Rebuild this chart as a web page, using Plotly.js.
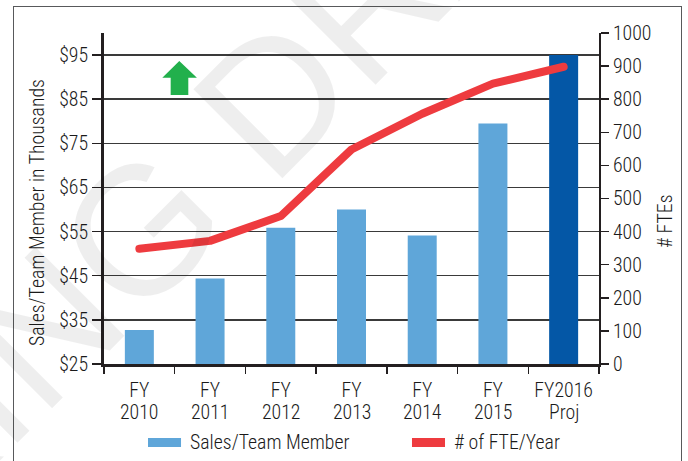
<!DOCTYPE html>
<html>
<head>
<meta charset="utf-8">
<script src="https://cdn.plot.ly/plotly-3.0.1.min.js"></script>
<style>
  html, body { margin: 0; padding: 0; background: #ffffff; }
  #wrap { position: relative; width: 688px; height: 461px; overflow: hidden; }
  #frame { position: absolute; left: 13px; top: 6px; width: 669px; height: 480px;
           border: 1.5px solid #58595b; box-sizing: border-box; }
  #plot { position: absolute; left: 0; top: 0; width: 688px; height: 461px; }
  .js-line { stroke-linecap: round !important; stroke-linejoin: round !important; }
</style>
</head>
<body>
<div id="wrap">
  <div id="frame"></div>
  <div id="plot"></div>
</div>
<script>
// ---- data ----
var categories = ["FY 2010", "FY 2011", "FY 2012", "FY 2013", "FY 2014", "FY 2015", "FY2016 Proj"];
var tickLine1 = ["FY", "FY", "FY", "FY", "FY", "FY", "FY2016"];
var tickLine2 = ["2010", "2011", "2012", "2013", "2014", "2015", "Proj"];
var salesPerMember = [32.7, 44.4, 55.9, 60.0, 54.1, 79.5, 95.0];   // $ thousands
var ftePerYear = [348, 372, 447, 648, 756, 847, 898];
var barColors = ["#5fa6d9", "#5fa6d9", "#5fa6d9", "#5fa6d9", "#5fa6d9", "#5fa6d9", "#0457a6"];
var seriesNames = ["Sales/Team Member", "# of FTE/Year"];
var leftTitle = "Sales/Team Member in Thousands";
var rightTitle = "# FTEs";

// ---- pick a condensed font if a real one is installed ----
var cv = document.createElement("canvas").getContext("2d");
function w(font, s) { cv.font = font; return cv.measureText(s).width; }
var probe = "Sales/Team Member";
var WEIGHT = 350;
var wRoboto = w("100px 'Roboto', monospace", probe);
var wRobotoC = w("100px 'Roboto Condensed', monospace", probe);
var wLibN = w("100px 'Liberation Sans Narrow', monospace", probe);
var wMono = w("100px monospace", probe);
var chosen = "Liberation Sans";
if (Math.abs(wLibN - wMono) > 1) chosen = "Liberation Sans Narrow";
else if (Math.abs(wRobotoC - wMono) > 1 && wRobotoC < wRoboto * 0.95) chosen = "Roboto Condensed";
var FONT = "'" + chosen + "', 'Liberation Sans', Arial, sans-serif";
var unitW = w(WEIGHT + " 100px " + FONT, probe) / 100;
var FS = Math.min(21, Math.round(160 / unitW * 10) / 10);

var TXT = "#1a1a1a";
function f() { return { family: FONT, size: FS, color: TXT, weight: WEIGHT }; }

var traces = [
  {
    type: "bar", name: seriesNames[0], x: categories, y: salesPerMember,
    marker: { color: barColors }, yaxis: "y"
  },
  {
    type: "scatter", mode: "lines", name: seriesNames[1], x: categories, y: ftePerYear,
    line: { color: "#ee3b3f", width: 8 }, yaxis: "y2"
  }
];

var annotations = [];
for (var i = 0; i < categories.length; i++) {
  annotations.push({
    x: categories[i], xref: "x", y: 0, yref: "paper", yshift: -48,
    text: tickLine2[i], showarrow: false, xanchor: "center", yanchor: "middle", font: f()
  });
}
// axis titles
annotations.push({ x: -0.1354, xref: "paper", y: 0.459, yref: "paper", text: leftTitle, textangle: -90,
  showarrow: false, xanchor: "center", yanchor: "middle", font: f() });
annotations.push({ x: 1.1333, xref: "paper", y: 0.432, yref: "paper", text: rightTitle, textangle: -90,
  showarrow: false, xanchor: "center", yanchor: "middle", font: f() });
// legend texts
annotations.push({ x: 0.1697, xref: "paper", y: -0.236, yref: "paper", text: seriesNames[0],
  showarrow: false, xanchor: "left", yanchor: "middle", font: f() });
annotations.push({ x: 0.7030, xref: "paper", y: -0.236, yref: "paper", text: seriesNames[1],
  showarrow: false, xanchor: "left", yanchor: "middle", font: f() });
// watermark
annotations.push({ x: 0.008, xref: "paper", y: 0.308, yref: "paper", text: "WORKING DRAFT",
  showarrow: false, xanchor: "center", yanchor: "middle", textangle: -45,
  font: { family: "'Liberation Sans', Arial, sans-serif", size: 183, color: "rgba(0,0,0,0.065)" } });

var shapes = [
  { type: "rect", xref: "paper", yref: "paper", x0: 0.0889, x1: 0.1556, y0: -0.2508, y1: -0.2236,
    fillcolor: "#5fa6d9", line: { width: 0 } },
  { type: "rect", xref: "paper", yref: "paper", x0: 0.6222, x1: 0.6889, y0: -0.2508, y1: -0.2236,
    fillcolor: "#ee3b3f", line: { width: 0 } },
  { type: "path", xref: "paper", yref: "paper",
    path: "M0.1347,0.8127 L0.1347,0.8650 L0.1178,0.8650 L0.1521,0.9154 L0.1877,0.8650 L0.1703,0.8650 L0.1703,0.8127 Z",
    fillcolor: "#22b04c", line: { width: 0 } }
];

var layout = {
  width: 688, height: 461,
  margin: { l: 104, r: 89, t: 33, b: 97, pad: 0 },
  paper_bgcolor: "rgba(0,0,0,0)", plot_bgcolor: "rgba(0,0,0,0)",
  showlegend: false,
  bargap: 0.59,
  font: f(),
  xaxis: {
    type: "category", tickmode: "array", tickvals: categories, ticktext: tickLine1, tickangle: 0,
    tickson: "boundaries", ticks: "outside", ticklen: 7, tickwidth: 1.5, tickcolor: "#231f20",
    ticklabelstandoff: 6,
    showline: true, linewidth: 3, linecolor: "#231f20", showgrid: false, zeroline: false,
    tickfont: f(), fixedrange: true
  },
  yaxis: {
    range: [25, 100], tick0: 25, dtick: 10, tickprefix: "$",
    ticks: "outside", ticklen: 9, tickwidth: 1.5, tickcolor: "#231f20",
    showline: true, linewidth: 3, linecolor: "#231f20",
    showgrid: true, gridcolor: "#3a3a3a", gridwidth: 1.5, zeroline: false,
    tickfont: f(), automargin: false
  },
  yaxis2: {
    overlaying: "y", side: "right", range: [0, 1000], tick0: 0, dtick: 100,
    ticks: "outside", ticklen: 8, tickwidth: 1.5, tickcolor: "#231f20",
    showline: true, linewidth: 2, linecolor: "#231f20", showgrid: false, zeroline: false,
    tickfont: f(), automargin: false
  },
  annotations: annotations,
  shapes: shapes
};

Plotly.newPlot("plot", traces, layout, { displayModeBar: false, staticPlot: true });
</script>
</body>
</html>
